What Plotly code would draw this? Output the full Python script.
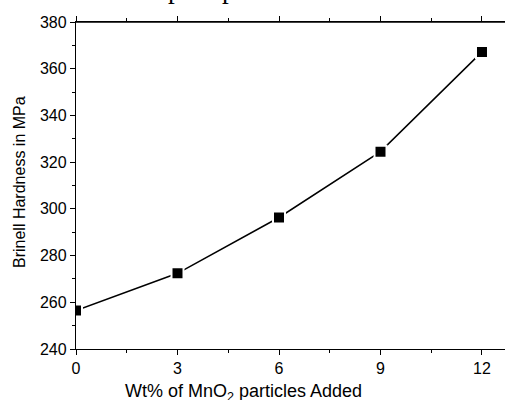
import plotly.graph_objects as go

wt_percent = [0, 3, 6, 9, 12]
hardness_mpa = [256.5, 272.4, 296.3, 324.5, 367.2]
x_tick_vals = [0, 3, 6, 9, 12]
y_tick_vals = [240, 260, 280, 300, 320, 340, 360, 380]

L, T, B, W, H = 76, 22, 51, 505, 400
PW, PH = W - L, H - T - B

fig = go.Figure()
fig.add_trace(go.Scatter(
    x=wt_percent, y=hardness_mpa, mode="lines+markers",
    line=dict(color="black", width=1.5),
    marker=dict(symbol="square", size=12, color="black",
                line=dict(color="white", width=2)),
    cliponaxis=True, showlegend=False,
))

font = "Liberation Sans, Arial, sans-serif"
fig.update_layout(
    width=W, height=H,
    margin=dict(l=L, r=0, t=T, b=B, autoexpand=False),
    paper_bgcolor="white", plot_bgcolor="white",
    font=dict(family=font, size=16, color="black"),
    xaxis=dict(
        range=[0, 12.68], tickvals=x_tick_vals, ticks="outside", ticklen=5,
        tickwidth=1, tickcolor="black", showline=True, linecolor="black",
        linewidth=1.3, mirror="ticks", showgrid=False, zeroline=False,
        minor=dict(dtick=1.5, ticks="outside", ticklen=3, tickcolor="black", showgrid=False),
        tickfont=dict(size=16),
    ),
    yaxis=dict(
        range=[240, 380], tickvals=y_tick_vals, ticks="outside", ticklen=5,
        tickwidth=1, tickcolor="black", showline=True, linecolor="black",
        linewidth=1.3, mirror=False, showgrid=False, zeroline=False,
        minor=dict(dtick=10, ticks="outside", ticklen=3, tickcolor="black", showgrid=False),
        tickfont=dict(size=16),
    ),
    shapes=[dict(type="line", xref="paper", yref="paper", x0=0, x1=1, y0=1, y1=1,
                 line=dict(color="black", width=1.3))],
)

fig.add_annotation(
    text="Wt% of MnO<sub>2</sub> particles Added", xref="paper", yref="paper",
    x=(243 - L) / PW, y=(H - B - 392) / PH, xanchor="center", yanchor="middle",
    showarrow=False, font=dict(family=font, size=18, color="black"),
)
fig.add_annotation(
    text="Brinell Hardness in MPa", xref="paper", yref="paper", textangle=-90,
    x=(19 - L) / PW, y=(H - B - 182) / PH, xanchor="center", yanchor="middle",
    showarrow=False, font=dict(family=font, size=16, color="black"),
)
fig.add_annotation(
    text="precipitate.", xref="paper", yref="paper", x=(166 - L) / PW, y=(H - B - 6) / PH,
    xanchor="left", yanchor="bottom", showarrow=False,
    font=dict(family="Liberation Serif, Times New Roman, serif", size=27, color="black"),
)

fig.write_html("out.html", config={"displayModeBar": False},
               post_script="document.body.style.margin='0';document.body.style.overflow='hidden';")
